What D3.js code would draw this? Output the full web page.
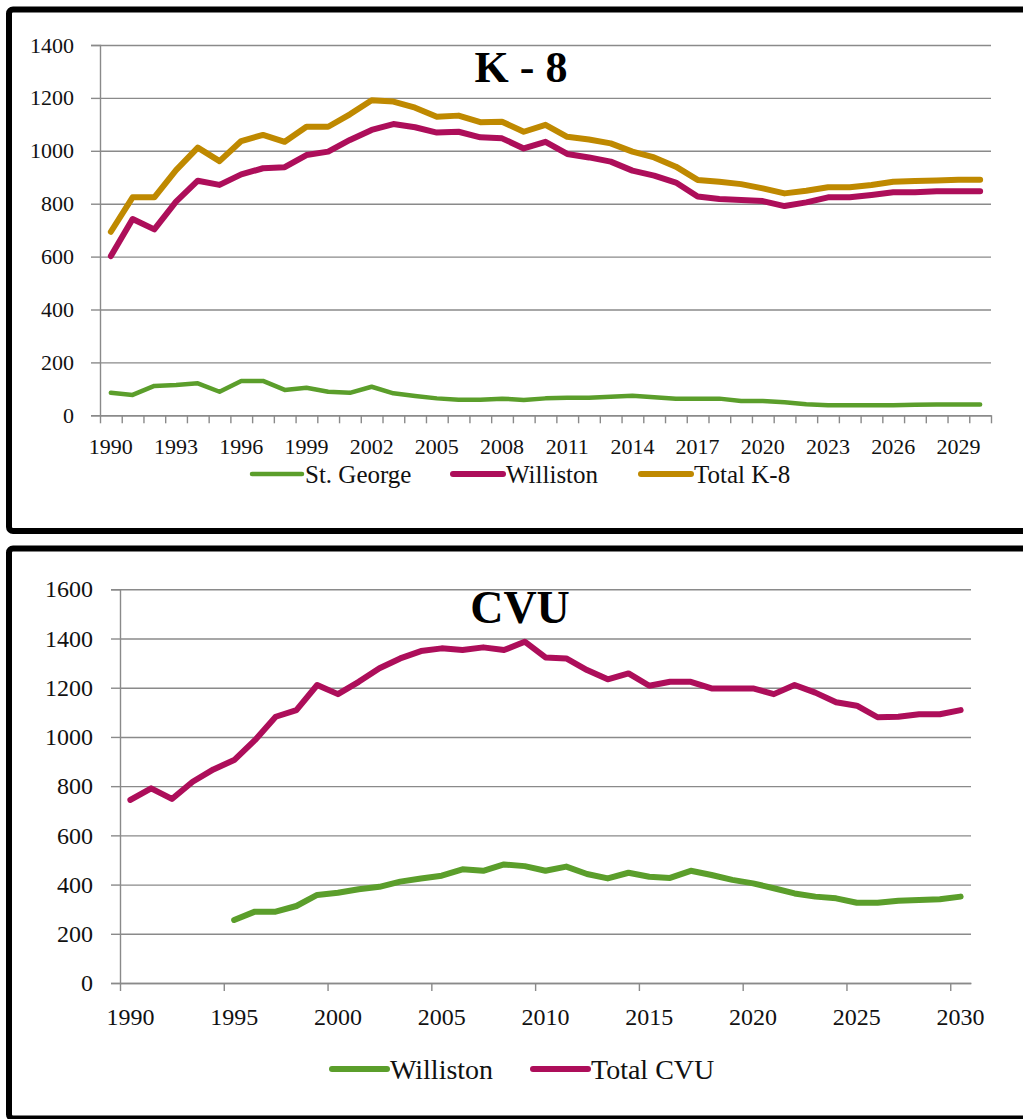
<!DOCTYPE html>
<html>
<head>
<meta charset="utf-8">
<script src="https://cdn.jsdelivr.net/npm/d3@7"></script>
<style>
  body { margin: 0; background: #fff; }
  svg { display: block; }
  .tick text { fill: #111; }
</style>
</head>
<body>
<svg id="chart" width="1023" height="1119"></svg>
<script>
"use strict";

// categories shared by both panels
const years = [1990, 1991, 1992, 1993, 1994, 1995, 1996, 1997, 1998, 1999,
               2000, 2001, 2002, 2003, 2004, 2005, 2006, 2007, 2008, 2009,
               2010, 2011, 2012, 2013, 2014, 2015, 2016, 2017, 2018, 2019,
               2020, 2021, 2022, 2023, 2024, 2025, 2026, 2027, 2028, 2029, 2030];

// K-8 panel
const stGeorgeK8 = [85, 77, 111, 115, 121, 89, 130, 130, 96, 104,
                    89, 85, 108, 83, 73, 64, 59, 59, 63, 58,
                    64, 66, 66, 70, 74, 68, 63, 63, 63, 54,
                    54, 49, 42, 38, 38, 38, 38, 40, 41, 41, 41];
const willistonK8 = [602, 742, 703, 808, 887, 871, 911, 934, 938, 984,
                     997, 1041, 1079, 1101, 1089, 1069, 1072, 1051, 1047, 1009,
                     1034, 988, 975, 959, 925, 906, 880, 827, 818, 814,
                     810, 791, 805, 824, 824, 833, 843, 843, 847, 847, 847];
const totalK8 = [694, 824, 824, 927, 1012, 961, 1037, 1060, 1034, 1091,
                 1091, 1138, 1191, 1186, 1163, 1129, 1133, 1108, 1110, 1072,
                 1098, 1053, 1043, 1028, 997, 975, 940, 890, 883, 874,
                 858, 839, 849, 862, 862, 871, 883, 886, 888, 891, 891];
const k8YTicks = [0, 200, 400, 600, 800, 1000, 1200, 1400];
const k8XLabels = [1990, 1993, 1996, 1999, 2002, 2005, 2008, 2011, 2014, 2017, 2020, 2023, 2026, 2029];

// CVU panel (Williston starts in 1995)
const willistonCVU = [null, null, null, null, null, 256, 290, 290, 313, 358,
                      367, 381, 391, 412, 425, 436, 462, 456, 482, 475,
                      456, 473, 443, 425, 448, 432, 427, 456, 439, 419,
                      405, 385, 364, 351, 344, 326, 326, 334, 337, 340, 351];
const totalCVU = [744, 791, 748, 818, 868, 906, 987, 1082, 1109, 1211,
                  1174, 1224, 1279, 1319, 1349, 1360, 1353, 1364, 1353, 1387,
                  1323, 1319, 1272, 1234, 1258, 1208, 1224, 1224, 1197, 1197,
                  1197, 1174, 1211, 1180, 1141, 1127, 1080, 1082, 1092, 1092, 1109];
const cvuYTicks = [0, 200, 400, 600, 800, 1000, 1200, 1400, 1600];
const cvuXLabels = [1990, 1995, 2000, 2005, 2010, 2015, 2020, 2025, 2030];

const GREEN = "#5b9e2b", MAGENTA = "#ad0e5a", GOLD = "#bf8900";
const GRID = "#8a8a8a";
const FONT = "'Liberation Serif', 'DejaVu Serif', serif";

const svg = d3.select("#chart");

function drawPanel(cfg) {
    const g = svg.append("g");

    // black frame, open at the right edge
    g.append("rect")
        .attr("x", cfg.frame[0]).attr("y", cfg.frame[1])
        .attr("width", 1100).attr("height", cfg.frame[2])
        .attr("rx", 4)
        .attr("fill", "#fff")
        .attr("stroke", "#000")
        .attr("stroke-width", 6);

    const x = d3.scaleBand().domain(years).range([cfg.left, cfg.right]).paddingInner(0).paddingOuter(0);
    const xEdge = d3.scaleLinear().domain([0, years.length]).range([cfg.left, cfg.right]);
    const y = d3.scaleLinear().domain([0, cfg.yMax]).range([cfg.bottom, cfg.top]);
    const cx = (yr) => x(yr) + x.bandwidth() / 2;

    // horizontal grid
    const grid = g.append("g")
        .attr("transform", "translate(" + cfg.left + ",0)")
        .call(d3.axisRight(y).tickValues(cfg.yTicks).tickFormat("").tickSize(cfg.right - cfg.left));
    grid.select(".domain").remove();
    grid.selectAll("line").attr("stroke", GRID).attr("stroke-width", 1.4);

    // y axis
    const yAxis = g.append("g")
        .attr("transform", "translate(" + cfg.left + ",0)")
        .call(d3.axisLeft(y).tickValues(cfg.yTicks).tickFormat(d3.format("d")).tickSize(9).tickPadding(cfg.yPad));
    yAxis.select(".domain").attr("stroke", GRID).attr("stroke-width", 1.4);
    yAxis.selectAll("line").attr("stroke", GRID).attr("stroke-width", 1.4);
    yAxis.selectAll("text")
        .style("font-family", FONT).style("font-size", cfg.tickFont + "px");

    // x tick marks between categories
    const xTicks = g.append("g")
        .attr("transform", "translate(0," + cfg.bottom + ")")
        .call(d3.axisBottom(xEdge).tickValues(cfg.tickEvery).tickFormat("").tickSize(8).tickSizeOuter(0));
    xTicks.select(".domain").attr("stroke", GRID).attr("stroke-width", 1.4);
    xTicks.selectAll("line").attr("stroke", GRID).attr("stroke-width", 1.4);

    // x labels centred on categories
    const xLabels = g.append("g")
        .attr("transform", "translate(0," + cfg.bottom + ")")
        .call(d3.axisBottom(x).tickValues(cfg.xLabels).tickSize(0).tickPadding(cfg.xPad));
    xLabels.select(".domain").remove();
    xLabels.selectAll("text")
        .style("font-family", FONT).style("font-size", cfg.tickFont + "px");

    // series
    const line = d3.line()
        .defined((d) => d[1] != null)
        .x((d) => cx(d[0]))
        .y((d) => y(d[1]));
    cfg.series.forEach((s) => {
        g.append("path")
            .datum(years.map((yr, i) => [yr, s.values[i]]))
            .attr("fill", "none")
            .attr("stroke", s.color)
            .attr("stroke-width", s.width)
            .attr("stroke-linejoin", "round")
            .attr("stroke-linecap", "round")
            .attr("d", line);
    });

    // title
    g.append("text")
        .attr("x", cfg.titlePos[0]).attr("y", cfg.titlePos[1])
        .attr("text-anchor", "middle")
        .style("font-family", FONT)
        .style("font-weight", "bold")
        .style("font-size", cfg.titleFont + "px")
        .attr("fill", "#000")
        .text(cfg.title);

    // legend
    cfg.series.forEach((s) => {
        const lg = g.append("g").attr("transform", "translate(" + s.legendX + "," + cfg.legendY + ")");
        lg.append("line")
            .attr("x1", 2).attr("x2", cfg.legendLen)
            .attr("stroke", s.color)
            .attr("stroke-width", s.width)
            .attr("stroke-linecap", "round");
        lg.append("text")
            .attr("x", cfg.legendLen + 3)
            .attr("dy", "0.35em")
            .style("font-family", FONT)
            .style("font-size", cfg.legendFont + "px")
            .attr("fill", "#111")
            .text(s.name);
    });
}

drawPanel({
    frame: [9, 9.5, 521.5],
    left: 100, right: 991, top: 45, bottom: 415.3,
    yMax: 1400, yTicks: k8YTicks, xLabels: k8XLabels,
    tickEvery: d3.range(0, years.length + 1),
    tickFont: 22, yPad: 17, xPad: 23,
    title: "K - 8", titlePos: [521, 82], titleFont: 44,
    legendY: 474, legendLen: 52, legendFont: 25,
    series: [
        {name: "St. George", values: stGeorgeK8, color: GREEN, width: 4.5, legendX: 250},
        {name: "Williston", values: willistonK8, color: MAGENTA, width: 6, legendX: 451},
        {name: "Total K-8", values: totalK8, color: GOLD, width: 6, legendX: 639}
    ]
});

drawPanel({
    frame: [9, 548.5, 570],
    left: 120, right: 971, top: 589.3, bottom: 983,
    yMax: 1600, yTicks: cvuYTicks, xLabels: cvuXLabels,
    tickEvery: d3.range(0, years.length + 1, 5),
    tickFont: 24, yPad: 18, xPad: 25,
    title: "CVU", titlePos: [520, 623], titleFont: 46,
    legendY: 1069, legendLen: 57, legendFont: 28,
    series: [
        {name: "Williston", values: willistonCVU, color: GREEN, width: 6, legendX: 330},
        {name: "Total CVU", values: totalCVU, color: MAGENTA, width: 6, legendX: 531}
    ]
});
</script>
</body>
</html>
